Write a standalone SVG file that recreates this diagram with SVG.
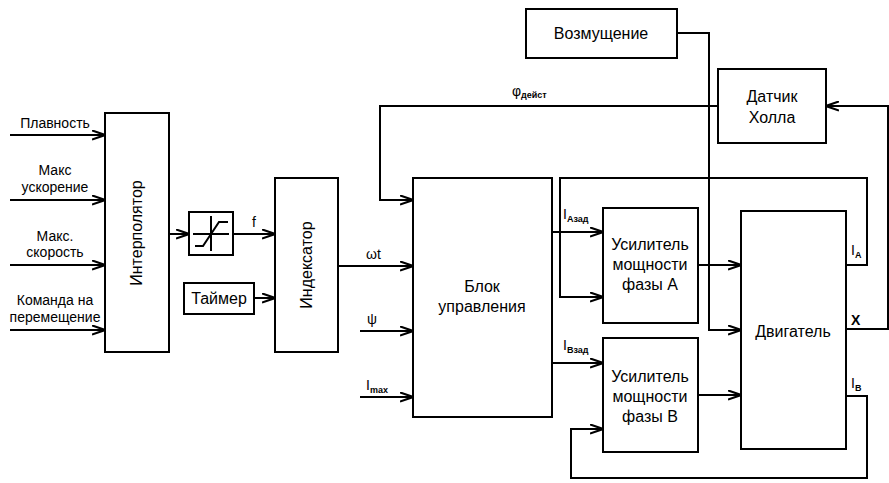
<svg xmlns="http://www.w3.org/2000/svg" width="889" height="483" viewBox="0 0 889 483">
<style>
.box{fill:#fff;stroke:#000;stroke-width:2}
.ln{fill:none;stroke:#000;stroke-width:2}
.arr{marker-end:url(#ah)}
text{font-family:"Liberation Sans",Arial,sans-serif;fill:#000}
.t{font-size:16px;text-anchor:middle}
.s{font-size:14px;text-anchor:middle}
.l{font-size:14px}
.sub{font-size:9px;font-weight:bold}
</style>
<defs>
<marker id="ah" viewBox="0 0 12 10" refX="12" refY="5" markerWidth="13" markerHeight="11" markerUnits="userSpaceOnUse" orient="auto">
<path d="M0,0.8 L12,5 L0,9.2" fill="none" stroke="#000" stroke-width="2"/>
</marker>
</defs>
<rect width="889" height="483" fill="#fff"/>

<g id="connectors">
<line class="ln arr" x1="10" y1="135" x2="105" y2="135"/>
<line class="ln arr" x1="10" y1="200" x2="105" y2="200"/>
<line class="ln arr" x1="10" y1="265" x2="105" y2="265"/>
<line class="ln arr" x1="10" y1="330" x2="105" y2="330"/>
<line class="ln arr" x1="169" y1="234" x2="189" y2="234"/>
<line class="ln arr" x1="233" y1="234" x2="275" y2="234"/>
<line class="ln arr" x1="254" y1="298" x2="275" y2="298"/>
<line class="ln arr" x1="338" y1="266" x2="413" y2="266"/>
<line class="ln arr" x1="360" y1="331" x2="413" y2="331"/>
<line class="ln arr" x1="360" y1="397" x2="413" y2="397"/>
<polyline class="ln arr" points="718,106 380,106 380,200 413,200"/>
<line class="ln arr" x1="552" y1="232" x2="603" y2="232"/>
<polyline class="ln arr" points="846,265 867,265 867,178 560,178 560,297 603,297"/>
<line class="ln arr" x1="552" y1="363" x2="603" y2="363"/>
<polyline class="ln arr" points="846,396 867,396 867,478 571,478 571,429 603,429"/>
<line class="ln arr" x1="698" y1="265" x2="741" y2="265"/>
<line class="ln arr" x1="698" y1="395" x2="741" y2="395"/>
<polyline class="ln arr" points="677,33 709,33 709,330 741,330"/>
<polyline class="ln arr" points="846,329 888,329 888,106 826,106"/>
</g>

<g id="input-labels">
<text class="s" x="55" y="128">Плавность</text>
<text class="s" x="55" y="175">Макс</text>
<text class="s" x="55" y="192">ускорение</text>
<text class="s" x="55" y="241">Макс.</text>
<text class="s" x="55" y="257">скорость</text>
<text class="s" x="55" y="305">Команда на</text>
<text class="s" x="55" y="322">перемещение</text>
</g>

<g id="signal-labels">
<text class="l" x="252" y="227">f</text>
<text class="l" x="366" y="259">ωt</text>
<text class="l" x="367" y="324">ψ</text>
<text class="l" x="366" y="390">I<tspan class="sub" dy="3">max</tspan></text>
<text class="l" x="512" y="96">φ<tspan class="sub" dy="2">дейст</tspan></text>
<text class="l" x="563" y="219">I<tspan class="sub" dy="3">Aзад</tspan></text>
<text class="l" x="563" y="350">I<tspan class="sub" dy="3">Bзад</tspan></text>
<text class="l" x="851" y="255">I<tspan class="sub" dy="3">A</tspan></text>
<text class="l" x="851" y="325" font-weight="bold">X</text>
<text class="l" x="851" y="388">I<tspan class="sub" dy="3">B</tspan></text>
</g>

<g id="interpolator">
<rect class="box" x="105" y="113" width="64" height="239"/>
<text class="t" transform="translate(142,233) rotate(-90)">Интерполятор</text>
</g>

<g id="limiter">
<rect class="box" x="189" y="212" width="44" height="43"/>
<line class="ln" x1="193" y1="234" x2="229" y2="234"/>
<line class="ln" x1="211" y1="216" x2="211" y2="251"/>
<polyline class="ln" points="195,246 203,246 219,222 228,222"/>
</g>

<g id="timer">
<rect class="box" x="184" y="283" width="70" height="31"/>
<text class="t" x="219" y="304">Таймер</text>
</g>

<g id="indexer">
<rect class="box" x="275" y="178" width="63" height="174"/>
<text class="t" transform="translate(312,265) rotate(-90)">Индексатор</text>
</g>

<g id="control">
<rect class="box" x="413" y="178" width="139" height="239"/>
<text class="t" x="482" y="292">Блок</text>
<text class="t" x="482" y="312">управления</text>
</g>

<g id="ampA">
<rect class="box" x="603" y="208" width="95" height="115"/>
<text class="t" x="650" y="250">Усилитель</text>
<text class="t" x="650" y="270">мощности</text>
<text class="t" x="650" y="290">фазы А</text>
</g>

<g id="ampB">
<rect class="box" x="603" y="338" width="95" height="114"/>
<text class="t" x="650" y="382">Усилитель</text>
<text class="t" x="650" y="402">мощности</text>
<text class="t" x="650" y="422">фазы В</text>
</g>

<g id="motor">
<rect class="box" x="741" y="211" width="105" height="238"/>
<text class="t" x="793" y="337">Двигатель</text>
</g>

<g id="disturbance">
<rect class="box" x="526" y="9" width="151" height="49"/>
<text class="t" x="601" y="39">Возмущение</text>
</g>

<g id="hall">
<rect class="box" x="718" y="69" width="108" height="74"/>
<text class="t" x="772" y="102">Датчик</text>
<text class="t" x="772" y="123">Холла</text>
</g>
</svg>
